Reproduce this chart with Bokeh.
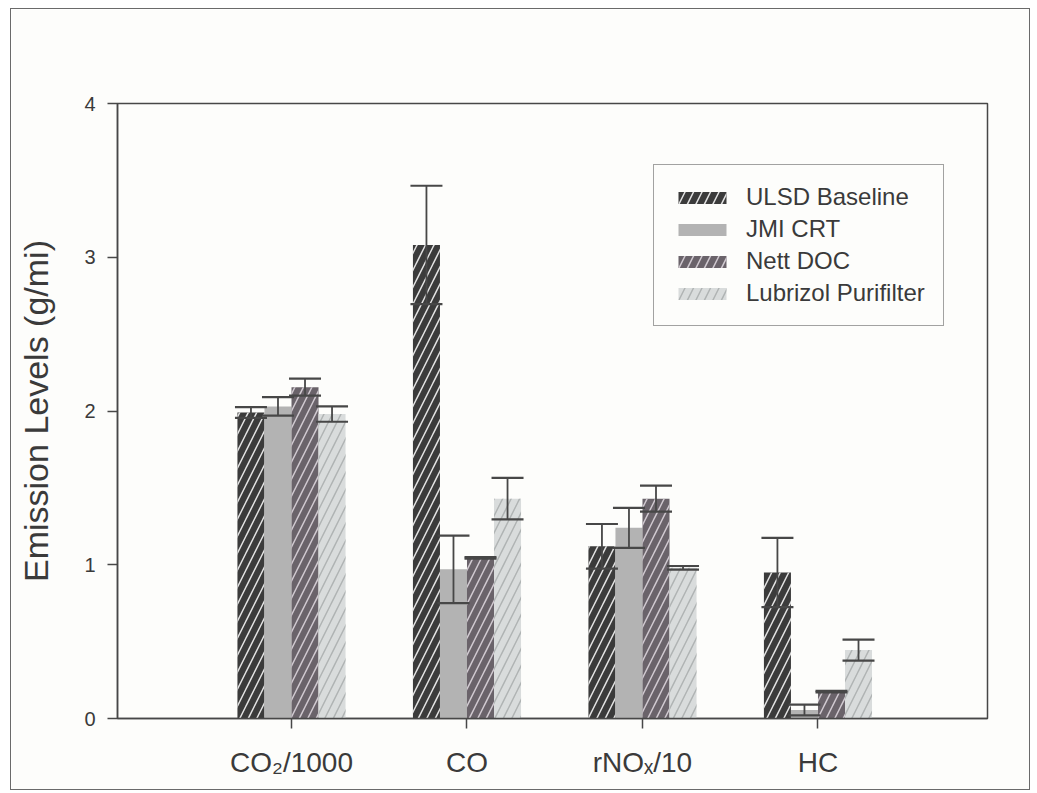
from bokeh.plotting import figure
from bokeh.models import (Range1d, FixedTicker, Whisker, TeeHead, ColumnDataSource,
                          Legend, LegendItem)
from bokeh.embed import file_html
from bokeh.resources import INLINE
import numpy as np

# ---------------- data ----------------
categories = ["CO\u2082/1000", "CO", "rNO\u2093/10", "HC"]
series = ["ULSD Baseline", "JMI CRT", "Nett DOC", "Lubrizol Purifilter"]

ulsd = [1.99, 3.08, 1.12, 0.95]
ulsd_err = [0.035, 0.385, 0.145, 0.225]
jmi = [2.03, 0.97, 1.24, 0.055]
jmi_err = [0.06, 0.22, 0.13, 0.035]
nett = [2.155, 1.045, 1.43, 0.175]
nett_err = [0.055, 0.005, 0.085, 0.005]
lub = [1.98, 1.43, 0.98, 0.445]
lub_err = [0.05, 0.135, 0.012, 0.068]

y_ticks = [0, 1, 2, 3, 4]

# ---------------- style ----------------
BG = "#fdfdfb"
AX = "#474747"
TXT = "#3a3a3a"
FONT = "Liberation Sans"
fills = ["#3b3b3b", "#b3b3b3", "#6a636a", "#d9dcdc"]
hatches = ["/", " ", "/", "/"]
hatch_cols = ["#e2e2e2", "#b3b3b3", "#d0c9d0", "#b0b4b4"]

p = figure(width=1020, height=782, output_backend="svg", toolbar_location=None,
           x_range=Range1d(0.0085, 4.966), y_range=Range1d(0, 4),
           min_border_left=106, min_border_right=44, min_border_top=94,
           min_border_bottom=73, background_fill_color=BG, border_fill_color=BG)
p.styles = {"border": "1.5px solid #6a6a6a", "box-sizing": "border-box",
            "margin": "8px 0px 0px 10px"}
p.xgrid.visible = False
p.ygrid.visible = False
p.outline_line_color = AX
p.outline_line_width = 1.5

cat_x = np.arange(1, len(categories) + 1)
bw = 0.154
offsets = [-1.5, -0.5, 0.5, 1.5]
vals = [ulsd, jmi, nett, lub]
errs = [ulsd_err, jmi_err, nett_err, lub_err]

items = []
for i in range(4):
    v = np.array(vals[i])
    e = np.array(errs[i])
    src = ColumnDataSource(dict(x=cat_x + offsets[i] * bw, top=v,
                                upper=v + e, lower=v - e))
    r = p.vbar(x="x", top="top", width=bw, bottom=0, source=src,
               fill_color=fills[i], line_color=None,
               hatch_pattern=hatches[i], hatch_color=hatch_cols[i],
               hatch_scale=17, hatch_weight=1.5)
    items.append(LegendItem(label=series[i], renderers=[r]))
    w = Whisker(source=src, base="x", upper="upper", lower="lower",
                line_color=AX, line_width=1.8,
                upper_head=TeeHead(size=32, line_color=AX, line_width=2.2),
                lower_head=TeeHead(size=32, line_color=AX, line_width=2.2),
                level="overlay")
    p.add_layout(w)

# ---------------- axes ----------------
ya = p.yaxis[0]
ya.ticker = FixedTicker(ticks=y_ticks)
ya.minor_tick_line_color = None
ya.major_tick_out = 10
ya.major_tick_in = 0
ya.axis_line_color = AX
ya.axis_line_width = 1.5
ya.major_tick_line_color = AX
ya.major_tick_line_width = 1.5
ya.major_label_text_font = FONT
ya.major_label_text_font_size = "20px"
ya.major_label_text_color = TXT
ya.major_label_standoff = 12
ya.axis_label = "Emission Levels (g/mi)"
ya.axis_label_text_font = FONT
ya.axis_label_text_font_size = "34px"
ya.axis_label_text_font_style = "normal"
ya.axis_label_text_color = TXT
ya.axis_label_standoff = 26

xa = p.xaxis[0]
xa.ticker = FixedTicker(ticks=list(cat_x))
xa.minor_tick_line_color = None
xa.major_tick_out = 10
xa.major_tick_in = 0
xa.axis_line_color = AX
xa.axis_line_width = 1.5
xa.major_tick_line_color = AX
xa.major_tick_line_width = 1.5
xa.major_label_overrides = {int(c): lab for c, lab in zip(cat_x, categories)}
xa.major_label_text_font = FONT
xa.major_label_text_font_size = "28px"
xa.major_label_text_color = TXT
xa.major_label_standoff = 18

# ---------------- legend ----------------
leg = Legend(items=items, location=(536, 392), orientation="vertical",
             glyph_width=60, glyph_height=15, label_height=28, label_standoff=14,
             spacing=4, padding=18, margin=0,
             label_text_font=FONT, label_text_font_size="24px",
             label_text_color=TXT, border_line_color=AX, border_line_width=1.5,
             background_fill_color=BG, background_fill_alpha=1.0)
p.add_layout(leg)

open("out.html", "w").write(file_html(p, INLINE))
